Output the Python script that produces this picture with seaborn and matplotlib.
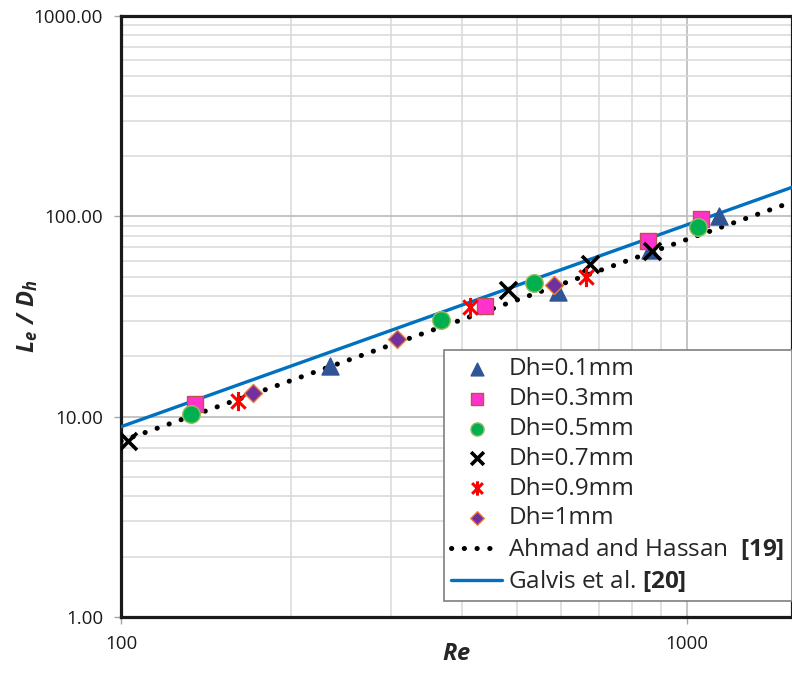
import numpy as np
import pandas as pd
import matplotlib
matplotlib.use("Agg")
import matplotlib.pyplot as plt
from matplotlib.path import Path
from matplotlib.ticker import LogLocator, FixedLocator, FixedFormatter, NullFormatter
import seaborn as sns

# Entrance length data (Le/Dh versus Re) for each hydraulic diameter
re_d01 = [234, 591, 860, 1139]
le_d01 = [18.0, 41.7, 67.6, 100.0]

re_d03 = [135, 440, 855, 1059]
le_d03 = [11.6, 35.5, 75.3, 97.3]

re_d05 = [133, 367, 537, 1047]
le_d05 = [10.3, 30.5, 46.4, 88.4]

re_d07 = [103, 482, 674, 868]
le_d07 = [7.6, 42.7, 58.0, 67.1]

re_d09 = [161, 413, 663]
le_d09 = [12.0, 35.2, 49.7]

re_d10 = [171, 307, 583]
le_d10 = [13.1, 24.5, 45.2]

# Correlations (straight lines on log-log axes, given by end points)
re_ahmad = [100, 1533]
le_ahmad = [7.55, 117.9]
re_galvis = [100, 1533]
le_galvis = [8.91, 139.6]

y_ticks = [1, 10, 100, 1000]
y_tick_labels = ["1.00", "10.00", "100.00", "1000.00"]
x_ticks = [100, 1000]
x_tick_labels = ["100", "1000"]

sns.set_theme(style="white")
plt.rcParams["font.family"] = ["Open Sans", "DejaVu Sans"]
plt.rcParams["mathtext.fontset"] = "custom"
plt.rcParams["mathtext.rm"] = "Open Sans"
plt.rcParams["mathtext.it"] = "Open Sans:italic"
plt.rcParams["mathtext.bf"] = "Open Sans:bold"
plt.rcParams["mathtext.bfit"] = "Open Sans:bold:italic"

fig = plt.figure(figsize=(7.92, 6.78), dpi=100)
ax = fig.add_axes([121 / 792, 1 - 617 / 678, 1 - 121 / 792, (617 - 16) / 678])

# Excel-style asterisk: vertical bar plus an X
star = Path([(0, -1), (0, 1), (-0.75, -0.75), (0.75, 0.75), (-0.75, 0.75), (0.75, -0.75)],
            [Path.MOVETO, Path.LINETO, Path.MOVETO, Path.LINETO, Path.MOVETO, Path.LINETO])

series = [
    ("Dh=0.1mm", re_d01, le_d01, "^", "#2F5597", "#2F5597", 150, 1.0),
    ("Dh=0.3mm", re_d03, le_d03, "s", "#FF33CC", "#C0504D", 120, 1.0),
    ("Dh=0.5mm", re_d05, le_d05, "o", "#00B050", "#9BBB59", 160, 1.0),
    ("Dh=0.7mm", re_d07, le_d07, "x", "#000000", "#000000", 150, 2.6),
    ("Dh=0.9mm", re_d09, le_d09, star, "#FF0000", "#FF0000", 190, 2.2),
    ("Dh=1mm", re_d10, le_d10, "D", "#7030A0", "#ED7D31", 85, 1.0),
]

for label, re_v, le_v, mk, fc, ec, size, lw in series:
    df = pd.DataFrame({"Re": re_v, "Le": le_v})
    sns.scatterplot(data=df, x="Re", y="Le", ax=ax, marker=mk, s=size,
                    color=fc, edgecolor=ec, linewidth=lw, label=label, zorder=4)

ahmad = pd.DataFrame({"Re": re_ahmad, "Le": le_ahmad})
galvis = pd.DataFrame({"Re": re_galvis, "Le": le_galvis})
sns.lineplot(data=ahmad, x="Re", y="Le", ax=ax, color="black", linewidth=3.6,
             dashes=False, label=r"Ahmad and Hassan  $\mathbf{[19]}$", zorder=3)
sns.lineplot(data=galvis, x="Re", y="Le", ax=ax, color="#0070C0", linewidth=2.4,
             dashes=False, label=r"Galvis et al. $\mathbf{[20]}$", zorder=3)

# dotted style for the Ahmad and Hassan correlation
DOTS = (0, (0.05, 2.5))
dot_line = ax.get_lines()[-2]
dot_line.set_linestyle(DOTS)
dot_line.set_dash_capstyle("round")

ax.set_xscale("log")
ax.set_yscale("log")
ax.set_xlim(100, 1533)
ax.set_ylim(1, 1000)

ax.yaxis.set_major_locator(FixedLocator(y_ticks))
ax.yaxis.set_major_formatter(FixedFormatter(y_tick_labels))
ax.xaxis.set_major_locator(FixedLocator(x_ticks))
ax.xaxis.set_major_formatter(FixedFormatter(x_tick_labels))
ax.xaxis.set_minor_locator(LogLocator(base=10, subs=np.arange(2, 10)))
ax.yaxis.set_minor_locator(LogLocator(base=10, subs=np.arange(2, 10)))
ax.xaxis.set_minor_formatter(NullFormatter())
ax.yaxis.set_minor_formatter(NullFormatter())

ax.grid(True, which="major", color="#BFBFBF", linewidth=1.3)
ax.grid(True, which="minor", color="#D9D9D9", linewidth=1.1)
ax.set_axisbelow(True)

ax.tick_params(axis="both", which="major", length=5, width=1.0, color="#A6A6A6",
               labelsize=13.5, labelcolor="#1a1a1a", direction="out")
ax.tick_params(axis="both", which="minor", length=0)
ax.tick_params(axis="x", pad=8)
ax.tick_params(axis="y", pad=8)
ax.tick_params(left=True, bottom=True)

for side in ["left", "bottom", "top", "right"]:
    ax.spines[side].set_color("#1a1a1a")
    ax.spines[side].set_linewidth(2.3)

ax.set_xlabel(r"$\mathbfit{Re}$", fontsize=17, labelpad=-8)
ax.set_ylabel(r"$\mathbfit{L_e\ /\ D_h}$", fontsize=17, labelpad=-5)

leg = ax.legend(loc="upper right", bbox_to_anchor=(1.0, 1 - 350 / 678),
                bbox_transform=fig.transFigure, borderaxespad=0,
                fontsize=17.5, frameon=True, fancybox=False, framealpha=1,
                edgecolor="#7F7F7F", handlelength=2.1, handletextpad=0.25,
                labelspacing=0.24, borderpad=0.3, markerscale=0.75)
leg.get_frame().set_linewidth(1.2)
leg.set_zorder(6)
for h in leg.get_lines():
    if h.get_color() == "black":
        h.set_linestyle(DOTS)
        h.set_dash_capstyle("round")

fig.savefig("out.png", dpi=100)
